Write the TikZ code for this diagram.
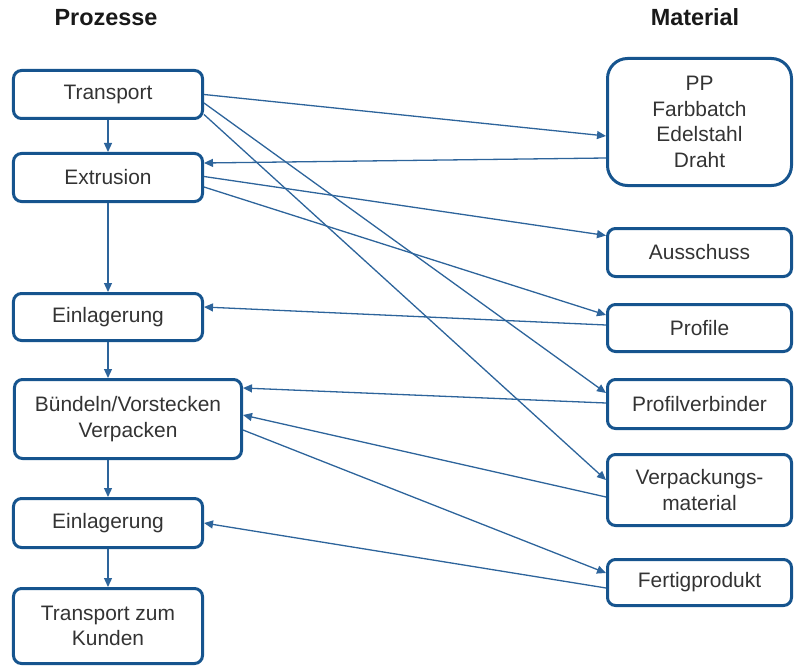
\documentclass[tikz,border=0pt]{standalone}
\usepackage{fontspec}
\setmainfont{Liberation Sans}
\usetikzlibrary{arrows.meta}
\definecolor{boxblue}{RGB}{22,84,142}
\definecolor{lineblue}{RGB}{45,100,155}
\begin{document}
\begin{tikzpicture}[x=1bp,y=-1bp,
  box/.style={draw=boxblue, line width=3bp, rounded corners=8bp, align=center,
    font=\fontsize{21}{25.5}\selectfont, inner sep=0pt, text=black!80},
  lbox/.style={box, minimum width=189bp},
  rbox/.style={box, minimum width=184bp},
  conn/.style={draw=lineblue, line width=1.3bp, -{Triangle[length=9bp,width=8bp]}},
  hdr/.style={font=\fontsize{23.5}{28}\selectfont\bfseries, text=black!90}]
\useasboundingbox (0,0) rectangle (795,667);

\node[hdr] (hp) at (106,18) {Prozesse};
\node[hdr] (hm) at (695,17) {Material};

% left column
\node[lbox, minimum height=48bp] (transport) at (108,94.5) {Transport};
\node[lbox, minimum height=48bp] (extrusion) at (108,177.5) {Extrusion};
\node[lbox, minimum height=47bp] (einl1) at (108,317) {Einlagerung};
\node[box, minimum width=227bp, minimum height=79bp] (buendeln) at (128,419) {Bündeln/Vorstecken\\Verpacken};
\node[lbox, minimum height=49bp] (einl2) at (108,523) {Einlagerung};
\node[lbox, minimum height=75bp] (kunden) at (108,626) {Transport zum\\Kunden};

% right column
\node[rbox, minimum height=127bp, rounded corners=20bp] (pp) at (699.5,122) {PP\\Farbbatch\\Edelstahl\\Draht};
\node[rbox, minimum height=48bp] (aus) at (699.5,252.5) {Ausschuss};
\node[rbox, minimum height=47bp] (profile) at (699.5,328) {Profile};
\node[rbox, minimum height=49bp] (pv) at (699.5,404) {Profilverbinder};
\node[rbox, minimum height=71bp] (verp) at (699.5,490) {Verpackungs-\\material};
\node[rbox, minimum height=46bp] (fertig) at (699.5,582.5) {Fertigprodukt};

% vertical flow
\draw[conn] (transport.south) -- (extrusion.north);
\draw[conn] (extrusion.south) -- (einl1.north);
\draw[conn] (einl1.south) -- (einl1.south |- buendeln.north);
\draw[conn] (einl1.south |- buendeln.south) -- (einl2.north);
\draw[conn] (einl2.south) -- (kunden.north);

% material flows
\draw[conn] (transport.east) -- ([yshift=-14bp]pp.west);
\draw[conn] ([yshift=-36bp]pp.west) -- ([yshift=14.5bp]extrusion.east);
\draw[conn] ([yshift=-8.5bp]transport.east) -- ([yshift=11bp]pv.west);
\draw[conn] ([yshift=-20bp]transport.east) -- ([yshift=10bp]verp.west);
\draw[conn] ([yshift=1bp]extrusion.east) -- ([yshift=17bp]aus.west);
\draw[conn] ([yshift=-9.5bp]extrusion.east) -- ([yshift=13bp]profile.west);
\draw[conn] ([yshift=3bp]profile.west) -- ([yshift=10bp]einl1.east);
\draw[conn] ([yshift=1bp]pv.west) -- ([yshift=31bp]buendeln.east);
\draw[conn] ([yshift=-7bp]verp.west) -- ([yshift=4bp]buendeln.east);
\draw[conn] ([yshift=-11bp]buendeln.east) -- ([yshift=9.5bp]fertig.west);
\draw[conn] ([yshift=-5.5bp]fertig.west) -- (einl2.east);
\end{tikzpicture}
\end{document}
